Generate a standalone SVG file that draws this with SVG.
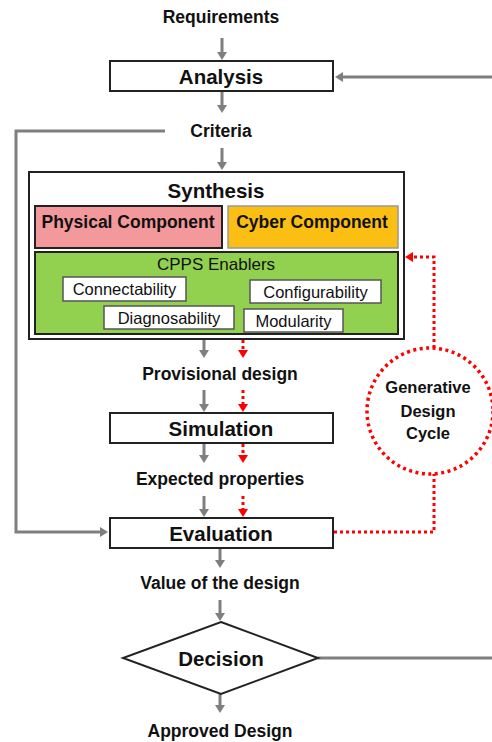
<svg xmlns="http://www.w3.org/2000/svg" width="492" height="742" viewBox="0 0 492 742">
<defs>
<marker id="ag" viewBox="0 -5 8 10" refX="0" refY="0" markerWidth="8" markerHeight="10" markerUnits="userSpaceOnUse" orient="auto"><path d="M0,-5 L8,0 L0,5 z" fill="#7f7f7f"/></marker>
<marker id="ar" viewBox="0 -5 8 10" refX="0" refY="0" markerWidth="8" markerHeight="10" markerUnits="userSpaceOnUse" orient="auto"><path d="M0,-5 L8,0 L0,5 z" fill="#ff0000"/></marker>
<style>
text{font-family:"Liberation Sans",Arial,sans-serif;text-anchor:middle;dominant-baseline:central;fill:#111}
.lb{font-weight:bold;font-size:17.5px}
.bx{font-weight:bold;font-size:20.5px}
.sm{font-size:16.5px}
.g{fill:none;stroke:#7f7f7f;stroke-width:3;marker-end:url(#ag)}
.gl{fill:none;stroke:#7f7f7f;stroke-width:3}
.r{fill:none;stroke:#ff0000;stroke-width:3;stroke-dasharray:3 3;marker-end:url(#ar)}
.rl{fill:none;stroke:#ff0000;stroke-width:3;stroke-dasharray:3 3}
.box{fill:#fff;stroke:#222;stroke-width:2}
.wb{fill:#fff;stroke:#555;stroke-width:1.5}
</style>
</defs>
<g id="connectors">
<line class="g" x1="222" y1="38" x2="222" y2="52"/>
<line class="g" x1="222" y1="92" x2="222" y2="105"/>
<line class="g" x1="222" y1="148" x2="222" y2="162"/>
<line class="g" x1="204" y1="340" x2="204" y2="350"/>
<line class="g" x1="204" y1="390" x2="204" y2="404"/>
<line class="g" x1="204" y1="444" x2="204" y2="455"/>
<line class="g" x1="204" y1="496" x2="204" y2="509"/>
<line class="g" x1="220" y1="549" x2="220" y2="560"/>
<line class="g" x1="220" y1="600" x2="220" y2="613"/>
<line class="g" x1="220" y1="694" x2="220" y2="705"/>
<line class="g" x1="492" y1="77" x2="343" y2="77"/>
<polyline class="g" points="165,131 16,131 16,532 100,532"/>
<line class="gl" x1="318" y1="658" x2="492" y2="658"/>
<line class="r" x1="243" y1="340" x2="243" y2="350"/>
<line class="r" x1="243" y1="390" x2="243" y2="404"/>
<line class="r" x1="243" y1="444" x2="243" y2="455"/>
<line class="r" x1="243" y1="496" x2="243" y2="509"/>
<polyline class="rl" points="334,532 434,532 434,474"/>
<polyline class="r" points="434,348 434,257 413,257"/>
</g>
<g id="requirements"><text class="lb" x="221" y="17">Requirements</text></g>
<g id="analysis"><rect class="box" x="110" y="61" width="223" height="30"/><text class="bx" x="221" y="76">Analysis</text></g>
<g id="criteria"><text class="lb" x="221" y="131">Criteria</text></g>
<g id="synthesis">
<rect class="box" x="29" y="172" width="375" height="167"/>
<text class="bx" x="216" y="190">Synthesis</text>
</g>
<g id="physical"><rect x="35" y="206" width="187" height="42" fill="#f4999b" stroke="#222" stroke-width="2"/><text x="128" y="222" style="font-weight:bold;font-size:17.5px">Physical Component</text></g>
<g id="cyber"><rect x="228" y="206" width="170" height="42" fill="#fbbf13" stroke="#999" stroke-width="1.5"/><text x="312" y="222" style="font-weight:bold;font-size:17.5px">Cyber Component</text></g>
<g id="enablers">
<rect x="35" y="252" width="363" height="82" fill="#92d050" stroke="#222" stroke-width="2"/>
<text x="216" y="264" style="font-size:17px">CPPS Enablers</text>
</g>
<g id="connectability"><rect class="wb" x="63" y="277" width="123" height="24"/><text class="sm" x="124.5" y="289">Connectability</text></g>
<g id="configurability"><rect class="wb" x="250" y="280" width="131" height="23"/><text class="sm" x="315.5" y="292">Configurability</text></g>
<g id="diagnosability"><rect class="wb" x="104" y="306" width="130" height="23"/><text class="sm" x="169" y="318">Diagnosability</text></g>
<g id="modularity"><rect class="wb" x="244" y="309" width="99" height="23"/><text class="sm" x="293.5" y="321">Modularity</text></g>
<g id="provisional"><text class="lb" x="220" y="374">Provisional design</text></g>
<g id="simulation"><rect class="box" x="110" y="413" width="223" height="30"/><text class="bx" x="221" y="428">Simulation</text></g>
<g id="expected"><text class="lb" x="220" y="479">Expected properties</text></g>
<g id="evaluation"><rect class="box" x="110" y="518" width="223" height="30"/><text class="bx" x="221" y="533">Evaluation</text></g>
<g id="value"><text class="lb" x="220" y="583">Value of the design</text></g>
<g id="decision"><polygon points="221,622 318,658 221,694 123,658" fill="#fff" stroke="#222" stroke-width="2"/><text class="bx" x="221" y="658">Decision</text></g>
<g id="approved"><text class="lb" x="220" y="731">Approved Design</text></g>
<g id="cycle">
<circle cx="430" cy="411" r="63" fill="none" stroke="#ff0000" stroke-width="3.5" stroke-dasharray="3 3.5"/>
<text x="428" y="387" style="font-weight:bold;font-size:16.5px">Generative</text>
<text x="428" y="411" style="font-weight:bold;font-size:16.5px">Design</text>
<text x="428" y="433" style="font-weight:bold;font-size:16.5px">Cycle</text>
</g>
</svg>
